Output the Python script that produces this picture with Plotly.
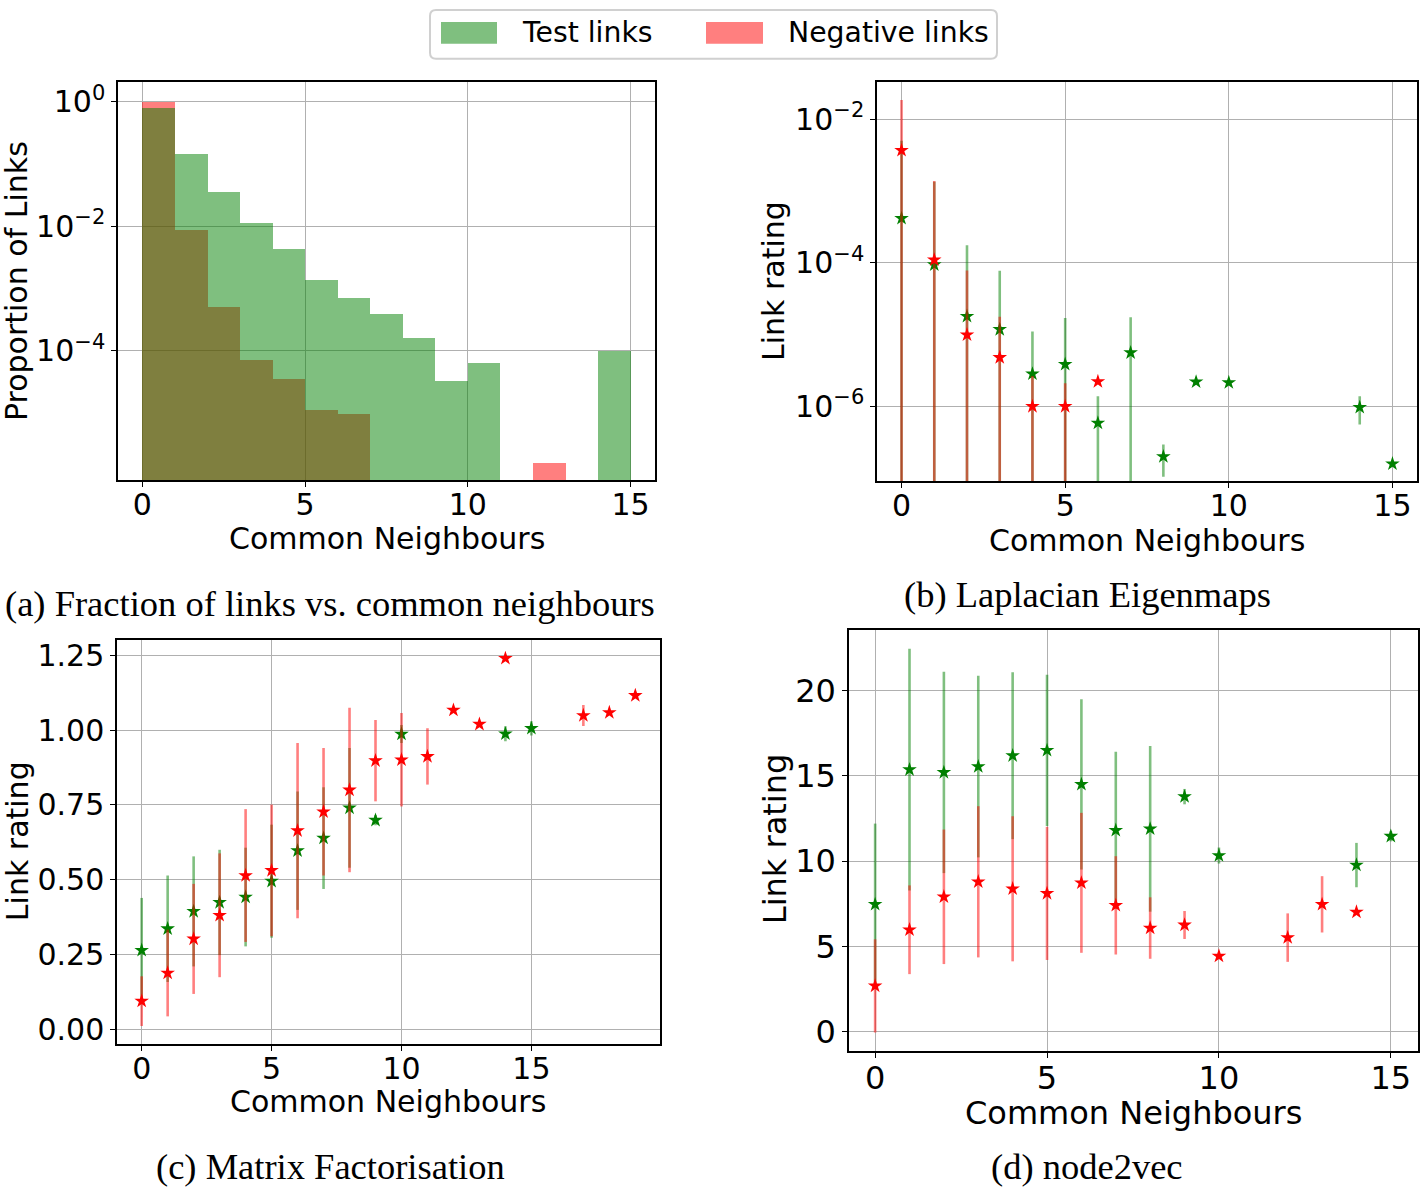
import plotly.graph_objects as go

W, H = 1423, 1188

# ---------------- data ----------------
# (a) histogram of common neighbours (bin centres, width 1)
hist_bins = [0.5, 1.5, 2.5, 3.5, 4.5, 5.5, 6.5, 7.5, 8.5, 9.5, 10.5, 11.5, 12.5, 13.5, 14.5]
hist_test = [0.81, 0.146, 0.036, 0.0113, 0.00434, 0.00137, 7.1e-4, 3.9e-4, 1.63e-4, 3.3e-5, 6.4e-5,
             None, None, None, 1.0e-4]
hist_neg = [0.99, 0.00885, 5.1e-4, 7.3e-5, 3.5e-5, 1.12e-5, 9.7e-6, None, None, None, None,
            None, 1.62e-6, None, None]

# (b) Laplacian Eigenmaps
le_test_x = [0, 1, 2, 3, 4, 5, 6, 7, 8, 9, 10, 14, 15]
le_test_mean = [4.16e-4, 9.4e-5, 1.8e-5, 1.18e-5, 2.84e-6, 3.86e-6, 5.87e-7, 5.6e-6, 2.0e-7, 2.2e-6, 2.15e-6, 9.7e-7, 1.59e-7]
le_test_std = [4.6e-3, 1.25e-3, 1.58e-4, 6.6e-5, 8.2e-6, 1.32e-5, 8.0e-7, 1.19e-5, 9.5e-8, 0, 0, 4.1e-7, 0]
le_neg_x = [0, 1, 2, 3, 4, 5, 6]
le_neg_mean = [3.68e-3, 1.1e-4, 9.95e-6, 4.8e-6, 1.0e-6, 1.0e-6, 2.22e-6]
le_neg_std = [1.48e-2, 1.27e-3, 6.8e-5, 1.29e-5, 1.66e-6, 1.1e-6, 0]

# (c) Matrix Factorisation
mf_test_x = [0, 1, 2, 3, 4, 5, 6, 7, 8, 9, 10, 14, 15]
mf_test_mean = [0.264, 0.336, 0.394, 0.424, 0.442, 0.495, 0.597, 0.639, 0.74, 0.699, 0.987, 0.988, 1.006]
mf_test_std = [0.175, 0.178, 0.184, 0.176, 0.165, 0.189, 0.198, 0.17, 0.2, 0.017, 0.03, 0.025, 0.024]
mf_neg_x = [0, 1, 2, 3, 4, 5, 6, 7, 8, 9, 10, 11, 12, 13, 14, 17, 18, 19]
mf_neg_mean = [0.094, 0.188, 0.302, 0.381, 0.514, 0.531, 0.664, 0.727, 0.80, 0.898, 0.901, 0.912,
               1.067, 1.020, 1.24, 1.049, 1.059, 1.116]
mf_neg_std = [0.083, 0.145, 0.184, 0.207, 0.222, 0.22, 0.293, 0.213, 0.275, 0.136, 0.156, 0.094,
              0, 0, 0, 0.035, 0, 0]

# (d) node2vec
nv_test_x = [0, 1, 2, 3, 4, 5, 6, 7, 8, 9, 10, 14, 15]
nv_test_mean = [7.47, 15.36, 15.2, 15.54, 16.18, 16.49, 14.5, 11.81, 11.89, 13.78, 10.33, 9.77, 11.46]
nv_test_std = [4.73, 7.08, 5.9, 5.32, 4.89, 4.43, 4.99, 4.6, 4.85, 0.45, 0.47, 1.3, 0.3]
nv_neg_x = [0, 1, 2, 3, 4, 5, 6, 7, 8, 9, 10, 12, 13, 14]
nv_neg_mean = [2.69, 5.98, 7.91, 8.79, 8.38, 8.11, 8.73, 7.41, 6.08, 6.26, 4.44, 5.52, 7.47, 7.02]
nv_neg_std = [2.73, 2.6, 3.94, 4.43, 4.25, 3.9, 4.1, 2.88, 1.8, 0.82, 0, 1.42, 1.65, 0]

x_ticks = [0, 5, 10, 15]
a_yticks = [1, 1e-2, 1e-4]
a_yticktext = ["10<sup>0</sup>", "10<sup>−2</sup>", "10<sup>−4</sup>"]
b_yticks = [1e-2, 1e-4, 1e-6]
b_yticktext = ["10<sup>−2</sup>", "10<sup>−4</sup>", "10<sup>−6</sup>"]
c_yticks = [0, 0.25, 0.5, 0.75, 1.0, 1.25]
d_yticks = [0, 5, 10, 15, 20]

legend_labels = ["Test links", "Negative links"]
captions = ["(a) Fraction of links vs. common neighbours", "(b) Laplacian Eigenmaps",
            "(c) Matrix Factorisation", "(d) node2vec"]
xlabel = "Common Neighbours"
ylabels = ["Proportion of Links", "Link rating", "Link rating", "Link rating"]

# ---------------- style ----------------
GREEN = "#008000"
RED = "#ff0000"
GREEN_A = "rgba(0,128,0,0.5)"
RED_A = "rgba(255,0,0,0.5)"
SANS = "DejaVu Sans"
SERIF = "Liberation Serif"


def px_x(p):
    return p / W


def px_y(p):
    return 1 - p / H


fig = go.Figure()

# (a) histogram bars: negative first, test on top
fig.add_trace(go.Bar(x=hist_bins, y=hist_neg, width=1, marker=dict(color=RED_A, line=dict(width=0)),
                     xaxis="x", yaxis="y", showlegend=False))
fig.add_trace(go.Bar(x=hist_bins, y=hist_test, width=1, marker=dict(color=GREEN_A, line=dict(width=0)),
                     xaxis="x", yaxis="y", showlegend=False))


def add_err(xs, ys, sd, color, color_a, xa, ya):
    fig.add_trace(go.Scatter(
        x=xs, y=ys, mode="markers", xaxis=xa, yaxis=ya, showlegend=False,
        marker=dict(symbol="star", size=11, color=color, line=dict(width=0)),
        error_y=dict(type="data", array=sd, visible=True, color=color_a, thickness=2.6, width=0),
    ))


add_err(le_test_x, le_test_mean, le_test_std, GREEN, GREEN_A, "x2", "y2")
add_err(le_neg_x, le_neg_mean, le_neg_std, RED, RED_A, "x2", "y2")
add_err(mf_test_x, mf_test_mean, mf_test_std, GREEN, GREEN_A, "x3", "y3")
add_err(mf_neg_x, mf_neg_mean, mf_neg_std, RED, RED_A, "x3", "y3")
add_err(nv_test_x, nv_test_mean, nv_test_std, GREEN, GREEN_A, "x4", "y4")
add_err(nv_neg_x, nv_neg_mean, nv_neg_std, RED, RED_A, "x4", "y4")

axis_common = dict(showline=True, linecolor="black", linewidth=1.5, mirror=True,
                   showgrid=True, gridcolor="#b0b0b0", gridwidth=1, zeroline=False,
                   ticks="outside", ticklen=5, tickwidth=1.2, tickcolor="black")


def xax(dom, rng, anchor, fs):
    return dict(domain=dom, range=rng, anchor=anchor, tickvals=x_ticks, ticklabelstandoff=-8,
                tickfont=dict(family=SANS, size=fs, color="black"), **axis_common)


# panel pixel boxes: (left, right, top, bottom)
boxes = {
    "a": (118, 655, 80, 480),
    "b": (877, 1417, 80, 481),
    "c": (117, 660, 640, 1046),
    "d": (849, 1418, 630, 1053),
}


def dom(b):
    l, r, t, bt = b
    return [px_x(l), px_x(r)], [px_y(bt), px_y(t)]


da_x, da_y = dom(boxes["a"])
db_x, db_y = dom(boxes["b"])
dc_x, dc_y = dom(boxes["c"])
dd_x, dd_y = dom(boxes["d"])

fig.update_layout(
    xaxis=xax(da_x, [-0.75, 15.75], "y", 30),
    yaxis=dict(domain=da_y, anchor="x", type="log", range=[-6.08, 0.32], tickvals=a_yticks,
               ticktext=a_yticktext, tickfont=dict(family=SANS, size=30, color="black"), **axis_common),
    xaxis2=xax(db_x, [-0.75, 15.75], "y2", 30),
    yaxis2=dict(domain=db_y, anchor="x2", type="log", range=[-7.044, -1.478], tickvals=b_yticks,
                ticktext=b_yticktext, tickfont=dict(family=SANS, size=30, color="black"), **axis_common),
    xaxis3=xax(dc_x, [-0.95, 19.95], "y3", 30),
    yaxis3=dict(domain=dc_y, anchor="x3", range=[-0.051, 1.302], tickvals=c_yticks, tickformat=".2f",
                tickfont=dict(family=SANS, size=30, color="black"), **axis_common),
    xaxis4=xax(dd_x, [-0.76, 15.79], "y4", 32),
    yaxis4=dict(domain=dd_y, anchor="x4", range=[-1.15, 23.55], tickvals=d_yticks,
                tickfont=dict(family=SANS, size=32, color="black"), **axis_common),
)

ann = []
# axis titles
for (cx, cy, fs) in [(387, 538, 30), (1147, 540, 30), (388, 1103, 30), (1133, 1115, 32)]:
    ann.append(dict(x=px_x(cx), y=px_y(cy), xref="paper", yref="paper", text=xlabel, showarrow=False,
                    xanchor="center", yanchor="middle", font=dict(family=SANS, size=fs, color="black")))
for (cx, cy, fs), lab in zip([(16, 280, 30), (773, 280, 30), (17, 842, 30), (775, 840, 32)], ylabels):
    ann.append(dict(x=px_x(cx), y=px_y(cy), xref="paper", yref="paper", text=lab, showarrow=False,
                    textangle=-90, xanchor="center", yanchor="middle",
                    font=dict(family=SANS, size=fs, color="black")))
# captions
for (cx, cy), cap in zip([(330, 604), (1087, 595), (330, 1168), (1087, 1168)], captions):
    ann.append(dict(x=px_x(cx), y=px_y(cy), xref="paper", yref="paper", text=cap, showarrow=False,
                    xanchor="center", yanchor="middle", font=dict(family=SERIF, size=36.5, color="black")))

# legend (drawn manually to match wide patches)
shapes = []
lx0, lx1, ly0, ly1 = 430, 997, 8, 57
r = 6
path = (f"M {px_x(lx0 + r)},{px_y(ly0)} L {px_x(lx1 - r)},{px_y(ly0)} "
        f"Q {px_x(lx1)},{px_y(ly0)} {px_x(lx1)},{px_y(ly0 + r)} "
        f"L {px_x(lx1)},{px_y(ly1 - r)} Q {px_x(lx1)},{px_y(ly1)} {px_x(lx1 - r)},{px_y(ly1)} "
        f"L {px_x(lx0 + r)},{px_y(ly1)} Q {px_x(lx0)},{px_y(ly1)} {px_x(lx0)},{px_y(ly1 - r)} "
        f"L {px_x(lx0)},{px_y(ly0 + r)} Q {px_x(lx0)},{px_y(ly0)} {px_x(lx0 + r)},{px_y(ly0)} Z")
shapes.append(dict(type="path", xref="paper", yref="paper", path=path,
                   line=dict(color="#d0d0d0", width=2), fillcolor="white"))
for (x0, x1), col, lab, tx in [((441, 497), GREEN_A, legend_labels[0], 520),
                               ((706, 763), RED_A, legend_labels[1], 786)]:
    shapes.append(dict(type="rect", xref="paper", yref="paper", x0=px_x(x0), x1=px_x(x1),
                       y0=px_y(42), y1=px_y(20), fillcolor=col, line=dict(width=0)))
    ann.append(dict(x=px_x(tx), y=px_y(31), xref="paper", yref="paper", text=lab, showarrow=False,
                    xanchor="left", yanchor="middle", font=dict(family=SANS, size=28.3, color="black")))

fig.update_layout(width=W, height=H, margin=dict(l=0, r=0, t=0, b=0),
                  paper_bgcolor="white", plot_bgcolor="white", barmode="overlay", bargap=0,
                  showlegend=False, annotations=ann, shapes=shapes)

fig.write_html("out.html", config={"displayModeBar": False},
               post_script="document.body.style.margin='0px';document.body.style.overflow='hidden';")
